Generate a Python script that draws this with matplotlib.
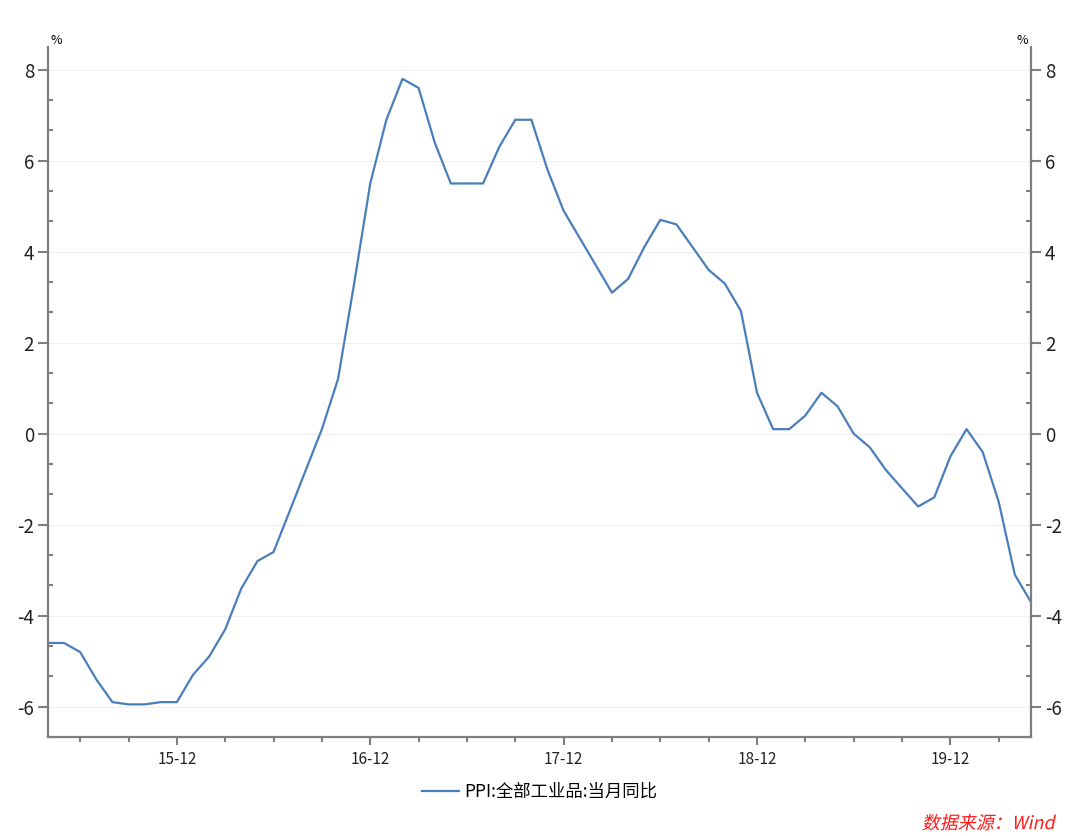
import numpy as np
import matplotlib.pyplot as plt
from matplotlib.ticker import MultipleLocator, FixedLocator
from matplotlib.textpath import TextPath
from matplotlib.patches import PathPatch
from matplotlib.font_manager import FontProperties
from matplotlib.transforms import Affine2D, IdentityTransform

plt.rcParams['font.family'] = ['Noto Sans CJK SC', 'DejaVu Sans']
plt.rcParams['axes.unicode_minus'] = False

# PPI 当月同比, 2015-04 .. 2020-05
months = ['15-04', '15-05', '15-06', '15-07', '15-08', '15-09', '15-10', '15-11', '15-12',
          '16-01', '16-02', '16-03', '16-04', '16-05', '16-06', '16-07', '16-08', '16-09',
          '16-10', '16-11', '16-12',
          '17-01', '17-02', '17-03', '17-04', '17-05', '17-06', '17-07', '17-08', '17-09',
          '17-10', '17-11', '17-12',
          '18-01', '18-02', '18-03', '18-04', '18-05', '18-06', '18-07', '18-08', '18-09',
          '18-10', '18-11', '18-12',
          '19-01', '19-02', '19-03', '19-04', '19-05', '19-06', '19-07', '19-08', '19-09',
          '19-10', '19-11', '19-12',
          '20-01', '20-02', '20-03', '20-04', '20-05']
ppi = [-4.6, -4.6, -4.8, -5.4, -5.9, -5.95, -5.95, -5.9, -5.9,
       -5.3, -4.9, -4.3, -3.4, -2.8, -2.6, -1.7, -0.8, 0.1, 1.2, 3.3, 5.5,
       6.9, 7.8, 7.6, 6.4, 5.5, 5.5, 5.5, 6.3, 6.9, 6.9, 5.8, 4.9,
       4.3, 3.7, 3.1, 3.4, 4.1, 4.7, 4.6, 4.1, 3.6, 3.3, 2.7, 0.9,
       0.1, 0.1, 0.4, 0.9, 0.6, 0.0, -0.3, -0.8, -1.2, -1.6, -1.4, -0.5,
       0.1, -0.4, -1.5, -3.1, -3.7]
tick_labels = ['15-12', '16-12', '17-12', '18-12', '19-12']

x = np.arange(len(ppi))
major_x = [months.index(t) for t in tick_labels]
minor_x = [i for i in range(2, len(ppi), 3) if i not in major_x]

fig = plt.figure(figsize=(10.8, 8.36), dpi=100)
ax = fig.add_axes([0.0444, 0.1184, 0.9102, 0.8254])

line, = ax.plot(x, ppi, color='#4a7ebb', lw=1.6, label='PPI:全部工业品:当月同比')

ax.set_xlim(0, len(ppi) - 1)
ax.set_ylim(-6.667, 8.5)

ax.xaxis.set_major_locator(FixedLocator(major_x))
ax.xaxis.set_minor_locator(FixedLocator(minor_x))
ax.set_xticklabels(tick_labels, fontsize=11)

ax.yaxis.set_major_locator(MultipleLocator(2))
ax.yaxis.set_minor_locator(MultipleLocator(2 / 3))
ax.grid(axis='y', which='major', color='#f0f0f0', lw=0.8)
ax.set_axisbelow(True)

grey = '#7f7f7f'
for s in ['left', 'right', 'bottom']:
    ax.spines[s].set_color(grey)
    ax.spines[s].set_linewidth(1.6)
ax.spines['top'].set_visible(False)

ax.tick_params(axis='y', which='both', left=True, right=True, labelleft=True,
               labelright=True, colors=grey, labelcolor='#222222', labelsize=13.5)
ax.tick_params(axis='y', which='major', direction='out', length=7, width=1.5, pad=3)
ax.tick_params(axis='y', which='minor', direction='in', length=3.5, width=1.5)
ax.tick_params(axis='x', which='major', direction='out', length=6, width=1.5,
               colors=grey, labelcolor='#222222', pad=4)
ax.tick_params(axis='x', which='minor', direction='out', length=3.5, width=1.5, colors=grey)

ax.text(0.003, 1.0, '%', transform=ax.transAxes, fontsize=9, ha='left', va='bottom')
ax.text(0.997, 1.0, '%', transform=ax.transAxes, fontsize=9, ha='right', va='bottom')

fig.legend(handles=[line], loc='center', bbox_to_anchor=(0.4995, 0.0526), frameon=False,
           fontsize=12.5, handlelength=2.1, handletextpad=0.3)

# slanted source note (CJK font has no italic, so skew the glyph outlines)
src = TextPath((0, 0), '数据来源：Wind', size=18, prop=FontProperties(family='Noto Sans CJK SC'))
bb = src.get_extents()
tr = Affine2D().skew_deg(12, 0).translate(1056 - bb.x1 - 3, 836 - 829)
fig.add_artist(PathPatch(tr.transform_path(src), transform=IdentityTransform(),
                         facecolor='#ff1a1a', edgecolor='none'))

fig.savefig('out.png', dpi=100)
